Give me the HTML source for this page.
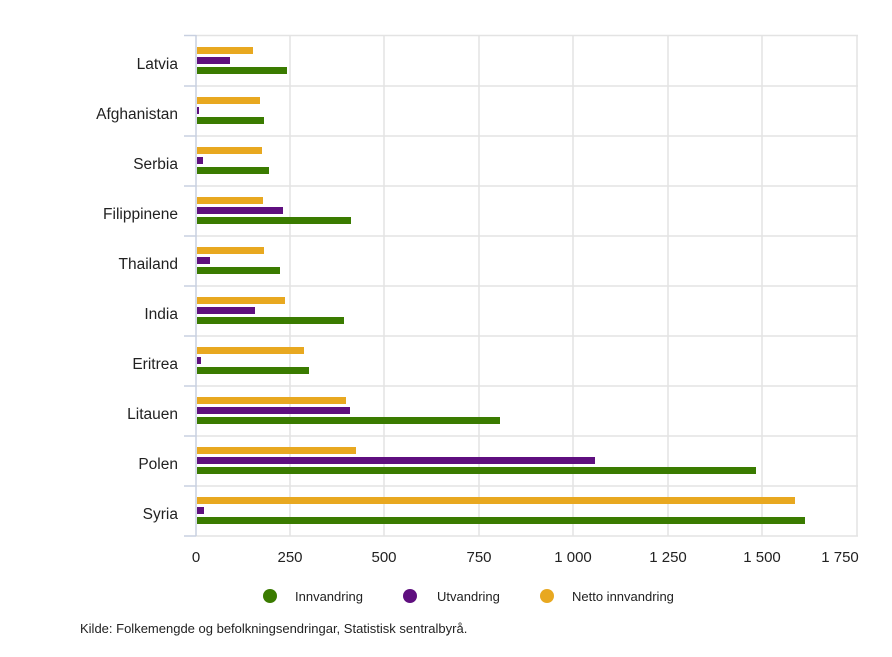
<!DOCTYPE html>
<html><head><style>
body{margin:0;background:#fff;width:892px;height:652px;overflow:hidden;font-family:"Liberation Sans",sans-serif;}
</style></head><body>
<svg width="892" height="652" xmlns="http://www.w3.org/2000/svg" font-family="Liberation Sans, sans-serif">
<g stroke="#e3e3e3" stroke-width="1.5">
<line x1="290" y1="35" x2="290" y2="536"/><line x1="384" y1="35" x2="384" y2="536"/>
<line x1="479" y1="35" x2="479" y2="536"/><line x1="573" y1="35" x2="573" y2="536"/>
<line x1="668" y1="35" x2="668" y2="536"/><line x1="762" y1="35" x2="762" y2="536"/>
<line x1="857" y1="35" x2="857" y2="536"/>
<line x1="196" y1="35.5" x2="858" y2="35.5"/><line x1="196" y1="86" x2="858" y2="86"/>
<line x1="196" y1="136" x2="858" y2="136"/><line x1="196" y1="186" x2="858" y2="186"/>
<line x1="196" y1="236" x2="858" y2="236"/><line x1="196" y1="286" x2="858" y2="286"/>
<line x1="196" y1="336" x2="858" y2="336"/><line x1="196" y1="386" x2="858" y2="386"/>
<line x1="196" y1="436" x2="858" y2="436"/><line x1="196" y1="486" x2="858" y2="486"/>
<line x1="196" y1="536" x2="858" y2="536"/>
</g>
<g stroke="#c8d0e0" stroke-width="1.5">
<line x1="196" y1="35" x2="196" y2="536"/>
<line x1="184" y1="35.5" x2="196" y2="35.5"/><line x1="184" y1="86" x2="196" y2="86"/>
<line x1="184" y1="136" x2="196" y2="136"/><line x1="184" y1="186" x2="196" y2="186"/>
<line x1="184" y1="236" x2="196" y2="236"/><line x1="184" y1="286" x2="196" y2="286"/>
<line x1="184" y1="336" x2="196" y2="336"/><line x1="184" y1="386" x2="196" y2="386"/>
<line x1="184" y1="436" x2="196" y2="436"/><line x1="184" y1="486" x2="196" y2="486"/>
<line x1="184" y1="536" x2="196" y2="536"/>
</g>
<g>
<g transform="translate(0,0)"><rect x="197" y="47" width="56" height="7" fill="#e8a820"/><rect x="197" y="57" width="33" height="7" fill="#5f0f7f"/><rect x="197" y="67" width="90" height="7" fill="#3a7b00"/></g>
<g transform="translate(0,50)"><rect x="197" y="47" width="63" height="7" fill="#e8a820"/><rect x="197" y="57" width="2" height="7" fill="#5f0f7f"/><rect x="197" y="67" width="67" height="7" fill="#3a7b00"/></g>
<g transform="translate(0,100)"><rect x="197" y="47" width="65" height="7" fill="#e8a820"/><rect x="197" y="57" width="6" height="7" fill="#5f0f7f"/><rect x="197" y="67" width="72" height="7" fill="#3a7b00"/></g>
<g transform="translate(0,150)"><rect x="197" y="47" width="66" height="7" fill="#e8a820"/><rect x="197" y="57" width="86" height="7" fill="#5f0f7f"/><rect x="197" y="67" width="154" height="7" fill="#3a7b00"/></g>
<g transform="translate(0,200)"><rect x="197" y="47" width="67" height="7" fill="#e8a820"/><rect x="197" y="57" width="13" height="7" fill="#5f0f7f"/><rect x="197" y="67" width="83" height="7" fill="#3a7b00"/></g>
<g transform="translate(0,250)"><rect x="197" y="47" width="88" height="7" fill="#e8a820"/><rect x="197" y="57" width="58" height="7" fill="#5f0f7f"/><rect x="197" y="67" width="147" height="7" fill="#3a7b00"/></g>
<g transform="translate(0,300)"><rect x="197" y="47" width="107" height="7" fill="#e8a820"/><rect x="197" y="57" width="4" height="7" fill="#5f0f7f"/><rect x="197" y="67" width="112" height="7" fill="#3a7b00"/></g>
<g transform="translate(0,350)"><rect x="197" y="47" width="149" height="7" fill="#e8a820"/><rect x="197" y="57" width="153" height="7" fill="#5f0f7f"/><rect x="197" y="67" width="303" height="7" fill="#3a7b00"/></g>
<g transform="translate(0,400)"><rect x="197" y="47" width="159" height="7" fill="#e8a820"/><rect x="197" y="57" width="398" height="7" fill="#5f0f7f"/><rect x="197" y="67" width="559" height="7" fill="#3a7b00"/></g>
<g transform="translate(0,450)"><rect x="197" y="47" width="598" height="7" fill="#e8a820"/><rect x="197" y="57" width="7" height="7" fill="#5f0f7f"/><rect x="197" y="67" width="608" height="7" fill="#3a7b00"/></g>
</g>
<g font-size="15.5" fill="#222" text-anchor="end">
<text x="178" y="69">Latvia</text><text x="178" y="119">Afghanistan</text>
<text x="178" y="169">Serbia</text><text x="178" y="219">Filippinene</text>
<text x="178" y="269">Thailand</text><text x="178" y="319">India</text>
<text x="178" y="369">Eritrea</text><text x="178" y="419">Litauen</text>
<text x="178" y="469">Polen</text><text x="178" y="519">Syria</text>
</g>
<g font-size="15" fill="#222" text-anchor="middle">
<text x="196" y="562">0</text><text x="290" y="562">250</text><text x="384" y="562">500</text>
<text x="479" y="562">750</text><text x="573" y="562">1 000</text><text x="668" y="562">1 250</text>
<text x="762" y="562">1 500</text><text x="840" y="562">1 750</text>
</g>
<g font-size="13" fill="#222">
<circle cx="270" cy="596" r="7" fill="#3a7b00"/><text x="295" y="601">Innvandring</text>
<circle cx="410" cy="596" r="7" fill="#5f0f7f"/><text x="437" y="601">Utvandring</text>
<circle cx="547" cy="596" r="7" fill="#e8a820"/><text x="572" y="601">Netto innvandring</text>
<text x="80" y="633">Kilde: Folkemengde og befolkningsendringar, Statistisk sentralbyrå.</text>
</g>
</svg>
</body></html>
